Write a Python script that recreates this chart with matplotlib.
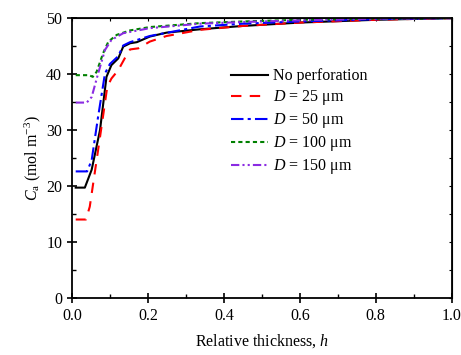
import numpy as np
import matplotlib
matplotlib.use('Agg')
import matplotlib.pyplot as plt

plt.rcParams['font.family'] = 'Liberation Serif'
plt.rcParams['mathtext.fontset'] = 'custom'
plt.rcParams['mathtext.rm'] = 'Liberation Serif'
plt.rcParams['mathtext.it'] = 'Liberation Serif:italic'

# data
h_none = [0.01, 0.034, 0.052, 0.074, 0.091, 0.104, 0.122, 0.135, 0.153, 0.171, 0.205, 0.249, 0.337, 0.45, 0.6, 0.8, 1.0]
c_none = [19.7, 19.7, 22.9, 30.0, 39.5, 41.6, 42.8, 44.9, 45.5, 45.7, 46.7, 47.4, 48.0, 48.6, 49.2, 49.7, 50.0]

h_25 = [0.01, 0.037, 0.047, 0.06, 0.078, 0.093, 0.104, 0.122, 0.139, 0.153, 0.175, 0.205, 0.249, 0.337, 0.45, 0.6, 0.8, 1.0]
c_25 = [14.0, 14.0, 16.3, 22.3, 30.6, 37.7, 39.2, 40.7, 42.8, 44.4, 44.6, 45.8, 46.8, 47.9, 48.6, 49.2, 49.7, 50.0]

h_50 = [0.01, 0.04, 0.052, 0.069, 0.087, 0.1, 0.122, 0.135, 0.153, 0.205, 0.337, 0.45, 0.6, 0.8, 1.0]
c_50 = [22.6, 22.6, 24.6, 32.4, 40.1, 41.8, 43.2, 45.1, 45.7, 46.8, 48.5, 49.0, 49.4, 49.8, 50.0]

h_100 = [0.01, 0.045, 0.055, 0.065, 0.082, 0.096, 0.118, 0.153, 0.205, 0.337, 0.45, 0.6, 0.8, 1.0]
c_100 = [39.8, 39.8, 39.5, 40.4, 43.7, 45.8, 47.0, 47.8, 48.4, 49.1, 49.4, 49.7, 49.9, 50.0]

h_150 = [0.01, 0.039, 0.052, 0.069, 0.087, 0.104, 0.135, 0.205, 0.337, 0.45, 0.6, 0.8, 1.0]
c_150 = [34.9, 34.9, 35.9, 40.1, 44.3, 46.1, 47.3, 48.2, 49.0, 49.3, 49.6, 49.9, 50.0]

fig = plt.figure(figsize=(4.61, 3.55), dpi=100)
ax = fig.add_axes([0.156, 0.161, 0.824, 0.788])

ax.plot(h_none, c_none, color='black', lw=1.5, ls='-', label='No perforation')
ax.plot(h_25, c_25, color='red', lw=1.5, ls=(0, (5, 4)), label=r'$D$ = 25 $\mathregular{\mu}$m')
ax.plot(h_50, c_50, color='blue', lw=1.5, ls=(0, (6, 2, 1.5, 2)), label=r'$D$ = 50 $\mathregular{\mu}$m')
ax.plot(h_100, c_100, color='green', lw=1.5, ls=(0, (2, 1.5)), label=r'$D$ = 100 $\mathregular{\mu}$m')
ax.plot(h_150, c_150, color='#8a2be2', lw=1.5, ls=(0, (4, 1.5, 1, 1.5, 1, 1.5)), label=r'$D$ = 150 $\mathregular{\mu}$m')

ax.set_xlim(0, 1.0)
ax.set_ylim(0, 50)
ax.set_xticks(np.arange(0, 1.01, 0.2))
ax.set_xticks(np.arange(0.1, 1.0, 0.2), minor=True)
ax.set_yticks(np.arange(0, 51, 10))
ax.set_yticks(np.arange(5, 50, 10), minor=True)
ax.xaxis.set_major_formatter(matplotlib.ticker.FormatStrFormatter('%.1f'))
ax.tick_params(which='major', direction='inout', length=7, width=1.2, labelsize=11.5, top=False, right=False)
ax.tick_params(which='minor', direction='in', length=3, width=1.0, top=False, right=False)
for s in ax.spines.values():
    s.set_linewidth(1.3)

sec = ax.secondary_xaxis('top')
sec.set_xticks(np.arange(0, 1.01, 0.1))
sec.tick_params(direction='in', length=2, labeltop=False)
sec.set_xticklabels([])
secy = ax.secondary_yaxis('right')
secy.set_yticks(np.arange(0, 51, 5))
secy.tick_params(direction='in', length=2)
secy.set_yticklabels([])

ax.set_xlabel(r'Relative thickness, $h$', fontsize=11.5, labelpad=6)
ax.set_ylabel(r'$C_{\mathregular{a}}$ (mol m$^{\mathregular{-3}}$)', fontsize=11.5, labelpad=2)

ax.legend(loc='upper left', bbox_to_anchor=(0.39, 0.86), frameon=False, fontsize=11.5,
          handlelength=2.3, handletextpad=0.3, labelspacing=0.25, borderpad=0.2)

fig.savefig('out.png', dpi=100)
